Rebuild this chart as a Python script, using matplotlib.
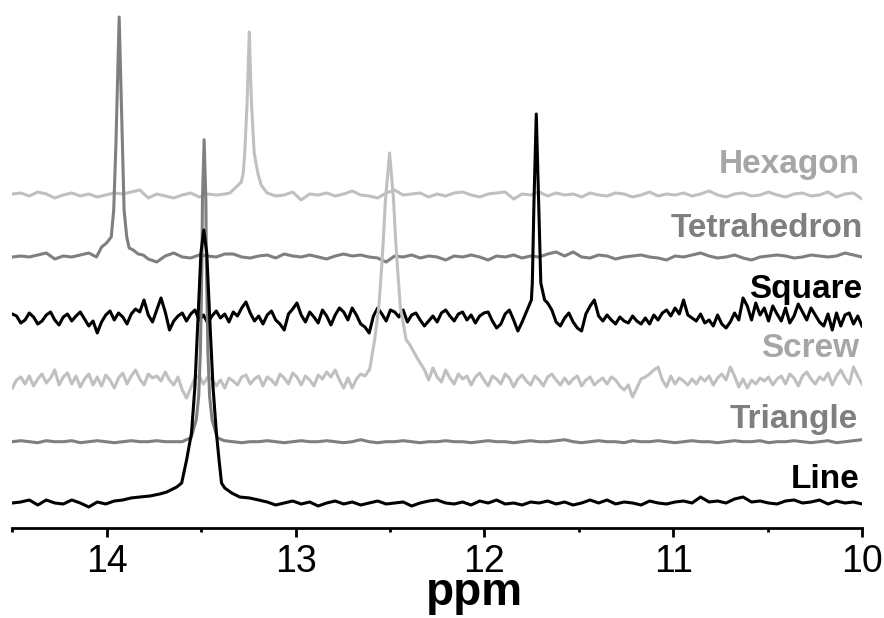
import numpy as np
import matplotlib
matplotlib.use("Agg")
import matplotlib.pyplot as plt

nan = np.nan

# ---------------- data (intensities relative to each trace's baseline) ----------------
# Baseline noise sampled on a uniform ppm grid 14.5 -> 10.0 (nan = inside peak window)
hexagon_noise = [1, 2, -1, 3, 1, -3, 0, 2, -1, 1,
                 -2, 0, 2, 1, 3, 5, -3, 1, -1, -3,
                 0, 2, -2, 1, 0, 1,
                 nan, nan, nan, nan,
                 2, -1, 0, 3, -5, 1, 0, 2, -1, 1,
                 4, 0, -1, -3, 2, 5, 0, 1, 2, -2,
                 1, -1, 2, 3, 0, -2, 1, 2, 3, -4,
                 1, 0, 3, -1, 2, 0, 1, -2, 2, 0,
                 -1, 2, 1, -2, 0, 3, -1, 1, 0, 2,
                 -1, 1, 4, 0, -2, 1, 2, -1, 0, 3,
                 0, -2, 1, 2, -1, 0, 3, -2, 1, 2, -4]
hexagon_peak_ppm = [13.348, 13.287, 13.277, 13.269, 13.256, 13.245, 13.234, 13.219, 13.200, 13.182, 13.155]
hexagon_peak_int = [2, 13, 22, 42, 95, 163, 95, 42, 22, 10, 3]

tetra_noise = [0, 1, 0, 2, 4, -2, 1, 0, 2, 4,
               nan, nan, nan, nan, nan, nan,
               -2, -5, 1, 4, 0, -1, 2, 1, 0, 3,
               3, 0, -1, 1, 2, -1, 3, 1, 0, 2,
               0, -2, 1, 3, 1, 2, 0, -1, -5, 1,
               0, 2, -1, 1, 0, -3, 1, 0, 2, 0,
               -3, 1, 0, 2, -1, 1, 0, 3, 5, 1,
               5, 0, -1, 2, 1, -2, 0, 1, 2, 0,
               -1, -3, 1, 0, 2, 4, 1, -1, 0, 2,
               -1, -3, 0, 1, 2, 1, -1, 0, 2, 1,
               0, 1, 4, 2, 0]
tetra_peak_ppm = [14.054, 14.027, 14.001, 13.976, 13.963, 13.951, 13.934, 13.917, 13.908,
                  13.894, 13.881, 13.860, 13.833, 13.807]
tetra_peak_int = [0, 10, 14, 20, 47, 114, 240, 114, 47, 20, 9, 7, 3, 2]

square_noise = [4, 2, -5, -2, 5, 1, -6, -3, 3, 6,
                -2, -7, 1, 4, -3, 2, 6, -1, -8, -3,
                -15, -4, 3, 7, -2, 5, 1, -6, 4, 9,
                6, 18, 3, -4, 8, 20, 6, -12, -3, 2,
                5, -3, 4, 8, -2, 3, -5, 2, 7, 0,
                4, -4, 6, 2, 10, 16, 5, -3, 2, -6,
                3, 7, -2, -6, -12, 4, 9, 15, 3, -4,
                6, 1, -5, 8, 2, -7, 3, 10, 6, -2,
                10, 3, -6, -9, -15, 2, 10, 4, -3, 8,
                6, 1, 8, -4, 3, 5, -2, -8, -3, 2,
                -4, 5, 8, 2, -3, 4, 6, -2, 3, -5,
                2, 5, 6, -3, -10, -6, 4, 8, -2, -13,
                -4, nan, nan, nan, nan, nan, 15, 8, -4, -8,
                0, 5, -4, -10, -13, 4, 12, 18, 2, -3,
                3, -2, -6, 1, -3, -5, 2, -3, -6, 0,
                -6, 3, -2, 5, 8, 2, 10, 4, 18, 3,
                0, -3, 4, -5, -2, -8, 3, -6, -10, -4,
                5, -2, 20, 12, -2, 15, 3, 10, -3, 12,
                4, -3, 10, -5, 2, 14, 6, -2, 10, 3,
                -4, -8, 4, -12, 5, -8, 3, 5, -6, 2,
                -8]
square_peak_ppm = [11.773, 11.751, 11.746, 11.737, 11.725, 11.713, 11.701, 11.681]
square_peak_int = [8, 18, 35, 118, 204, 118, 35, 18]

screw_noise = [-6, 2, 5, -2, 6, -4, 3, 8, -1, 4,
               12, -3, 5, 9, -2, 6, -5, 3, 8, -3,
               5, -4, 7, 2, -6, 4, 9, -2, 6, 12,
               3, -3, 8, 4, 6, 1, 10, 2, -3, 5,
               -8, -16, -6, 4, 6, -2, 5, 3, -4, 2,
               -6, 4, 1, -3, 5, 7, -2, 3, 6, -4,
               5, 2, -3, 8, 4, -2, 9, 5, -3, 6,
               2, -4, 7, 3, 10, 5, 12, 2, -6, 4,
               -6, 3, 8, 6, 12,
               nan, nan, nan, nan, nan, nan, nan, nan, nan, nan, nan, nan, nan,
               2, 14,
               5, 0, 12, 4, -2, 8, 3, 6, -3, 5,
               9, 2, -4, 6, 3, -2, 8, 4, -5, 3,
               7, 1, -3, 6, 2, -4, 5, 8, 2, -3,
               4, -2, 3, 6, -4, 2, 5, -3, 1, 4,
               -2, 5, 2, -4, -8, -3, -15, -6, 3, 5,
               8, 12, 15, 2, -5, 6, -2, 4, 1, -3,
               3, -2, 5, 1, 6, -3, 4, 8, 2, 15,
               6, -5, 3, -6, 2, -2, 4, 1, 5, -3,
               3, 6, -2, 8, 4, -4, 6, 10, 3, -2,
               5, 2, 9, -3, 6, 12, 4, -2, 15, 6,
               -2]
screw_peak_ppm = [12.608, 12.581, 12.559, 12.546, 12.535, 12.524, 12.502, 12.481, 12.470,
                  12.458, 12.445, 12.414, 12.397, 12.359, 12.317]
screw_peak_int = [12, 42, 75, 109, 142, 182, 229, 182, 142, 109, 75, 42, 38, 25, 12]

triangle_noise = [0, 1, 0, -1, 1, 0, 0, 1, -1, 0,
                  1, 0, -1, 0, 1, 0, 0, 1, 0, 0,
                  0, nan, nan, nan, nan,
                  1, 0, -1, 0, 0, 1, 0, -1, 0, 1,
                  0, 0, 1, 0, -1, 0, 2, 0, -1, 0,
                  0, 1, 0, -1, 0, 0, 1, 0, 0, -1,
                  0, 1, 0, 0, -1, 0, 1, 0, 0, 1,
                  2, 0, -1, 0, 1, 0, 0, -1, 1, 0,
                  0, 1, 0, -1, 0, 1, 0, 0, -1, 0,
                  1, 0, 0, 1, -1, 0, 0, 1, 0, -1,
                  0, 1, -1, 0, 1, 2]
triangle_peak_ppm = [13.590, 13.553, 13.526, 13.513, 13.504, 13.496, 13.493, 13.484, 13.475,
                     13.472, 13.464, 13.455, 13.442, 13.415, 13.378]
triangle_peak_int = [1, 4, 22, 45, 89, 175, 242, 302, 242, 175, 89, 45, 22, 4, 1]

line_noise = [0, 1, 3, -2, 3, 0, -1, 3, 0, -4,
              1, -1, 2, 3,
              nan, nan, nan, nan, nan, nan, nan, nan, nan, nan, nan, nan, nan, nan, nan, nan,
              1, -2, 0, 2, -1, 1, -3, 0, 2, -1,
              1, -2, 0, 2, -1, 0, 1, -3, 0, 2,
              3, 0, -1, 1, -2, 2, 0, 3, -1, 0,
              -2, 1, 0, 2, -1, 1, -2, 0, 3, 0,
              3, -1, 1, 0, -2, 2, 0, -1, 1, 2,
              0, 6, 1, 2, 0, 4, 6, 1, 2, 0,
              -1, 2, 3, 0, 1, 3, -1, 2, 0, 1, -1]
line_peak_ppm = [13.872, 13.824, 13.771, 13.719, 13.682, 13.650, 13.629, 13.603, 13.577, 13.551,
                 13.533, 13.517, 13.501, 13.486, 13.470, 13.454, 13.437, 13.419, 13.405, 13.392,
                 13.375, 13.338, 13.296, 13.243, 13.196]
line_peak_int = [5, 6, 7, 9, 11, 14, 16, 20, 43, 70,
                 116, 183, 250, 273, 250, 183, 116, 70, 43, 20,
                 15, 10, 6, 5, 3]

names = ["Hexagon", "Tetrahedron", "Square", "Screw", "Triangle", "Line"]
tick_values = [14, 13, 12, 11, 10]
minor_tick_values = [14.5, 13.5, 12.5, 11.5, 10.5]

# ---------------- layout / style ----------------
W, H = 884, 618
SPINE_Y = 527.7
offsets_px = [195, 257, 318, 382, 441.7, 503]          # baseline pixel rows
label_base_px = [173, 237, 298, 357, 428, 488]          # label baseline rows
label_right_ppm = [10.009, 9.994, 10.0, 10.015, 10.021, 10.015]
line_colors = ["#c0c0c0", "#7f7f7f", "#000000", "#c0c0c0", "#7f7f7f", "#000000"]
text_colors = ["#a6a6a6", "#7f7f7f", "#000000", "#a6a6a6", "#7f7f7f", "#000000"]

plt.rcParams["font.family"] = ["Liberation Sans", "DejaVu Sans"]

fig = plt.figure(figsize=(W / 100, H / 100), dpi=100)
ax = fig.add_axes([12.3 / W, (H - SPINE_Y) / H, (862 - 12.3) / W, SPINE_Y / H])


def build(noise, pk_ppm, pk_int, base):
    noise = np.asarray(noise, dtype=float)
    grid = np.linspace(14.5, 10.0, len(noise))
    keep = ~np.isnan(noise)
    x = np.concatenate([grid[keep], np.asarray(pk_ppm, float)])
    y = np.concatenate([noise[keep], np.asarray(pk_int, float)])
    order = np.argsort(-x)
    return x[order], y[order] + base


traces = [
    (hexagon_noise, hexagon_peak_ppm, hexagon_peak_int),
    (tetra_noise, tetra_peak_ppm, tetra_peak_int),
    (square_noise, square_peak_ppm, square_peak_int),
    (screw_noise, screw_peak_ppm, screw_peak_int),
    (triangle_noise, triangle_peak_ppm, triangle_peak_int),
    (line_noise, line_peak_ppm, line_peak_int),
]

for k, (nz, pp, pi) in enumerate(traces):
    base = SPINE_Y - offsets_px[k]
    x, y = build(nz, pp, pi, base)
    ax.plot(x, y, color=line_colors[k], lw=2.2, solid_joinstyle="round", zorder=2 + k)
    ax.text(label_right_ppm[k], SPINE_Y - label_base_px[k], names[k], ha="right",
            va="baseline", fontsize=24, fontweight="bold", color=text_colors[k], zorder=10)

ax.set_xlim(14.5, 10.0)
ax.set_ylim(0, SPINE_Y)
for s in ["left", "right", "top"]:
    ax.spines[s].set_visible(False)
ax.spines["bottom"].set_linewidth(2.0)
ax.set_yticks([])
ax.set_xticks(tick_values)
ax.set_xticklabels([str(v) for v in tick_values])
ax.set_xticks(minor_tick_values, minor=True)
ax.tick_params(axis="x", which="major", length=6.5, width=2.0, direction="out", pad=5,
               labelsize=27)
ax.tick_params(axis="x", which="minor", length=3, width=2.0, direction="out")

ax.set_xlabel("ppm", fontsize=33, fontweight="bold")
ax.xaxis.label.set_va("baseline")
ax.xaxis.set_label_coords((474 - 12.3) / (862 - 12.3), -(605 - SPINE_Y) / SPINE_Y)

fig.savefig("out.png", dpi=100)
